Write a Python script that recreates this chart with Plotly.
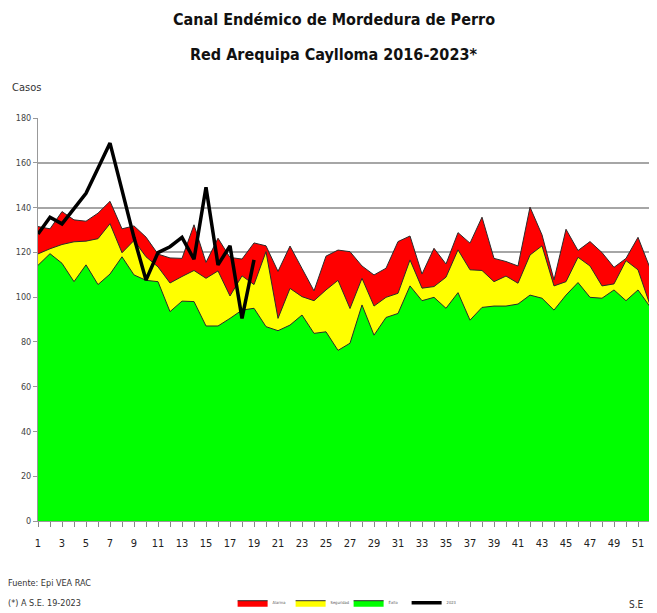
import plotly.graph_objects as go

# semanas epidemiologicas
semanas = list(range(1, 53))

# limite superior (alarma)
alarma = [131.5, 130.5, 138.2, 134.5, 133.9, 137.5, 142.8, 130.5, 131.8, 126.8,
          119.2, 117.5, 117.3, 132.3, 115.5, 126.3, 117.7, 117.0, 124.2, 122.9,
          111.5, 122.8, 112.8, 102.8, 118.3, 121.0, 120.3, 113.9, 109.9, 112.9,
          124.8, 127.3, 110.3, 121.8, 114.8, 128.8, 124.1, 135.7, 117.3, 115.9,
          113.9, 140.2, 127.8, 107.7, 130.3, 120.8, 124.8, 119.9, 113.3, 117.3,
          126.7, 113.0]

# mediana (seguridad)
seguridad = [119.3, 121.6, 123.5, 124.7, 125.0, 126.1, 132.8, 119.8, 125.3, 118.0,
             113.5, 106.3, 109.2, 111.9, 108.4, 111.7, 100.5, 109.5, 105.6, 120.3,
             90.5, 103.9, 100.2, 98.4, 103.2, 107.5, 94.9, 108.4, 96.0, 99.9,
             101.7, 116.6, 104.0, 104.7, 108.9, 121.1, 112.2, 111.9, 106.9, 109.4,
             106.2, 118.8, 122.9, 105.0, 106.9, 117.8, 113.9, 105.0, 105.9, 116.3,
             112.2, 96.5]

# limite inferior (exito)
exito = [114.2, 119.4, 115.1, 106.9, 114.4, 105.6, 110.3, 118.0, 109.9, 107.5,
         106.9, 93.5, 98.2, 98.0, 87.1, 87.1, 90.5, 94.2, 95.0, 86.8,
         85.0, 87.5, 92.0, 83.8, 84.5, 76.2, 79.4, 96.5, 83.0, 90.9,
         92.7, 105.0, 98.4, 99.9, 95.0, 102.0, 89.7, 95.4, 96.0, 96.0,
         96.9, 100.9, 99.5, 94.2, 100.9, 106.5, 99.9, 99.5, 103.2, 98.4,
         103.2, 95.7]

# casos 2023 hasta la S.E. 19
semanas_2023 = list(range(1, 20))
casos_2023 = [128.2, 135.7, 132.7, 139.7, 146.4, 157.6, 168.8, 147.8, 126.6, 107.6,
              119.9, 122.5, 126.7, 116.9, 149.1, 114.4, 122.9, 90.5, 116.6]

x_ticks = semanas
x_labels = [str(s) if s % 2 == 1 else "" for s in semanas]

FAM = "DejaVu Sans Condensed, Liberation Sans Narrow, sans-serif"


def narrow(size, color="#333333", weight="normal"):
    return dict(family=FAM, size=size, color=color, weight=weight)


fig = go.Figure()

for nombre, valores, color in [("Alarma", alarma, "#ff0000"),
                               ("Seguridad", seguridad, "#ffff00"),
                               ("Éxito", exito, "#00ff00")]:
    fig.add_trace(go.Scatter(
        x=semanas, y=valores, name=nombre,
        mode="lines", fill="tozeroy", fillcolor=color,
        line=dict(color="#2b2b2b", width=1),
    ))

fig.add_trace(go.Scatter(
    x=semanas_2023, y=casos_2023, name="2023",
    mode="lines", line=dict(color="#000000", width=3.5),
))

# the page body has an 8px margin, so the figure is shifted by 8px
fig.update_layout(
    width=649, height=605,
    margin=dict(l=30, r=7, t=110, b=92),
    plot_bgcolor="white", paper_bgcolor="white",
    font=narrow(10),
    showlegend=True,
    legend=dict(
        orientation="h", x=0.318, xanchor="left",
        yref="container", y=0.017, yanchor="middle",
        font=narrow(4, "#555555"),
        entrywidth=13, entrywidthmode="pixels", itemwidth=30,
        traceorder="normal", bgcolor="rgba(0,0,0,0)",
    ),
    xaxis=dict(
        range=[1, 52], tickvals=x_ticks, ticktext=x_labels,
        ticks="outside", ticklen=5, tickcolor="#888888",
        ticklabelstandoff=7,
        showgrid=False, showline=True, linecolor="#999999", linewidth=1,
        tickfont=narrow(11, "#222222"),
        zeroline=False,
    ),
    yaxis=dict(
        range=[0, 180], dtick=20, tick0=0,
        showgrid=True, gridcolor="#a6a6a6", gridwidth=1.5,
        showline=True, linecolor="#999999", linewidth=1,
        ticks="outside", ticklen=4, tickcolor="#999999",
        tickfont=narrow(9, "#444444"),
        zeroline=False,
    ),
    annotations=[
        dict(text="Canal Endémico de Mordedura de Perro",
             xref="paper", yref="paper", x=0.483, y=1.0, yshift=99,
             xanchor="center", yanchor="middle", showarrow=False,
             font=narrow(16, "#111111", "bold")),
        dict(text="Red Arequipa Caylloma 2016-2023*",
             xref="paper", yref="paper", x=0.483, y=1.0, yshift=64,
             xanchor="center", yanchor="middle", showarrow=False,
             font=narrow(16, "#111111", "bold")),
        dict(text="Casos", xref="paper", yref="paper", x=-0.046, y=1.0, yshift=31,
             xanchor="left", yanchor="middle", showarrow=False,
             font=narrow(11)),
        dict(text="Fuente: Epi VEA RAC", xref="paper", yref="paper",
             x=-0.053, y=-0.155, xanchor="left", yanchor="middle", showarrow=False,
             font=narrow(9)),
        dict(text="(*) A S.E. 19-2023", xref="paper", yref="paper",
             x=-0.053, y=-0.203, xanchor="left", yanchor="middle", showarrow=False,
             font=narrow(9)),
        dict(text="S.E", xref="paper", yref="paper",
             x=0.963, y=-0.208, xanchor="left", yanchor="middle", showarrow=False,
             font=narrow(10)),
    ],
)

fig.write_html("out.html")
